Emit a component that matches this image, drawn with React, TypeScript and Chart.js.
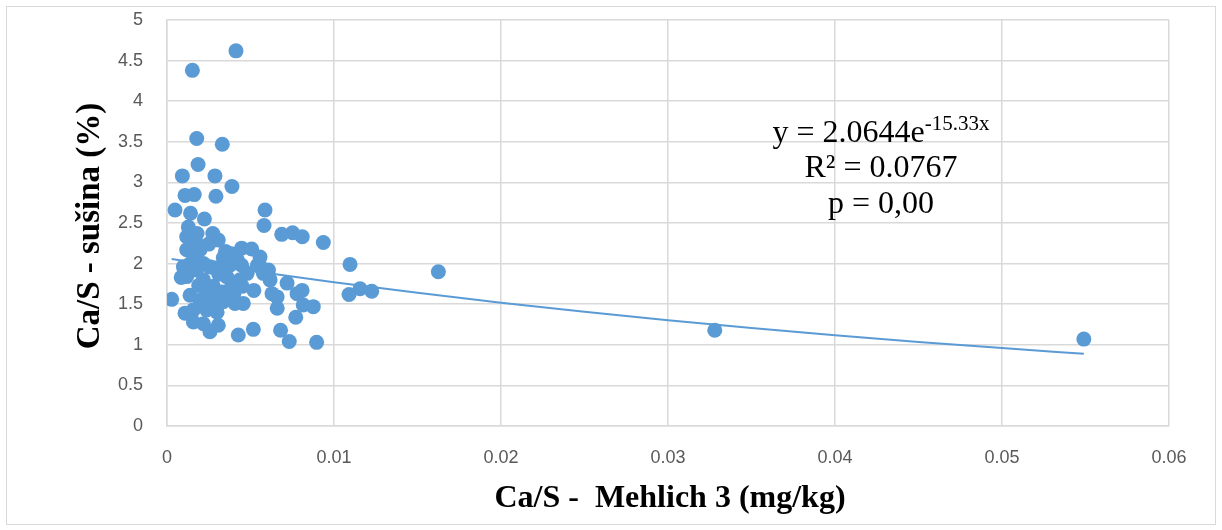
import React, { useEffect, useRef } from 'react';
import { Chart, registerables } from 'chart.js';

Chart.register(...registerables);

// Ca/S - Mehlich 3 (mg/kg)
const xValues: number[] = [
  0.00413, 0.00152, 0.00178, 0.00331, 0.00186, 0.00092, 0.00287, 0.00389, 0.00108, 0.00163,
  0.00293, 0.00048, 0.00141, 0.00224, 0.00587, 0.00581, 0.00687, 0.00752, 0.0081, 0.00936,
  0.01096, 0.01625, 0.0328, 0.0549, 0.0109, 0.01156, 0.01226, 0.00128, 0.00118, 0.0018,
  0.00274, 0.00307, 0.00178, 0.00118, 0.00198, 0.00447, 0.00507, 0.00387, 0.00337, 0.00557,
  0.00158, 0.00218, 0.00148, 0.00257, 0.00377, 0.00447, 0.0056, 0.00608, 0.00541, 0.0052,
  0.00719, 0.00629, 0.00659, 0.00809, 0.00779, 0.00816, 0.00876, 0.0066, 0.00771, 0.00517,
  0.0068, 0.00732, 0.00896, 0.00577, 0.00617, 0.00028, 0.00118, 0.00178, 0.00218, 0.00278,
  0.00357, 0.00437, 0.00387, 0.00138, 0.00198, 0.00268, 0.00337, 0.00407, 0.00457, 0.00158,
  0.00238, 0.00158, 0.00218, 0.00307, 0.00257, 0.00427, 0.00098, 0.00357, 0.00108, 0.00085,
  0.0025, 0.0033, 0.003, 0.004, 0.0045, 0.0028, 0.0023, 0.0019, 0.0014, 0.0035,
  0.0042, 0.0048, 0.0039, 0.0027, 0.0031,
];

// Ca/S - sušina (%)
const yValues: number[] = [
  4.62, 4.38, 3.54, 3.47, 3.22, 3.08, 3.08, 2.95, 2.84, 2.85,
  2.83, 2.66, 2.62, 2.55, 2.66, 2.47, 2.36, 2.38, 2.33, 2.26,
  1.99, 1.9, 1.18, 1.07, 1.62, 1.69, 1.66, 2.45, 2.33, 2.37,
  2.37, 2.29, 2.25, 2.17, 2.17, 2.19, 2.18, 2.12, 2.07, 2.08,
  2.04, 2.0, 1.94, 1.96, 1.98, 1.98, 1.96, 1.92, 1.98, 1.67,
  1.76, 1.63, 1.59, 1.67, 1.63, 1.49, 1.47, 1.45, 1.34, 1.19,
  1.18, 1.04, 1.03, 1.88, 1.8, 1.56, 1.84, 1.92, 1.8, 1.72,
  1.84, 1.8, 1.72, 1.61, 1.55, 1.59, 1.53, 1.51, 1.51, 1.43,
  1.43, 1.28, 1.26, 1.24, 1.16, 1.12, 1.96, 1.96, 1.39, 1.83,
  2.24, 1.65, 1.4, 1.62, 1.72, 1.95, 1.7, 1.73, 2.0, 2.15,
  2.05, 1.88, 1.6, 1.5, 1.87,
];

// Exponential trendline shown on the chart: y = 2.0644e^(-15.33x)
const TREND_A = 2.0644;
const TREND_B = -15.33;
const trendSampleX: number[] = [0.00028, 0.005, 0.01, 0.015, 0.02, 0.025, 0.03, 0.035, 0.04, 0.045, 0.05, 0.0549];

const equationMain = 'y = 2.0644e';
const equationExp = '-15.33x';
const r2Label = 'R² = 0.0767';
const pLabel = 'p = 0,00';
const xTitle = 'Ca/S -  Mehlich 3 (mg/kg)';
const yTitle = 'Ca/S - sušina (%)';

const BLUE = '#5B9BD5';
const GRID = '#d9d9d9';

const fmt = (v: number) => String(Number(Number(v).toFixed(4)));

export default function App() {
  const ref = useRef<HTMLCanvasElement | null>(null);

  useEffect(() => {
    if (!ref.current) return;
    const points = xValues.map((x, i) => ({ x, y: yValues[i] }));
    const trend = trendSampleX.map((x) => ({ x, y: TREND_A * Math.exp(TREND_B * x) }));

    const textPlugin = {
      id: 'textPlugin',
      beforeDraw(chart: any) {
        const ctx = chart.ctx;
        ctx.save();
        ctx.fillStyle = '#ffffff';
        ctx.fillRect(0, 0, chart.width, chart.height);
        ctx.strokeStyle = GRID;
        ctx.lineWidth = 1;
        ctx.strokeRect(6.5, 6.5, 1209, 518);
        ctx.restore();
      },
      afterDraw(chart: any) {
        const ctx = chart.ctx;
        const area = chart.chartArea;
        ctx.save();
        ctx.fillStyle = '#000000';
        // x axis title
        ctx.font = 'bold 32px "Liberation Serif"';
        ctx.textAlign = 'center';
        ctx.textBaseline = 'alphabetic';
        ctx.fillText(xTitle, (area.left + area.right) / 2 + 2, 507);
        // y axis title
        ctx.save();
        ctx.font = 'bold 33px "Liberation Serif"';
        ctx.translate(90, (area.top + area.bottom) / 2 + 3);
        ctx.rotate(-Math.PI / 2);
        ctx.textBaseline = 'middle';
        ctx.fillText(yTitle, 0, 0);
        ctx.restore();
        // equation
        const cx = 881;
        ctx.font = '32px "Liberation Serif"';
        const w1 = ctx.measureText(equationMain).width;
        ctx.font = '21px "Liberation Serif"';
        const w2 = ctx.measureText(equationExp).width;
        const start = cx - (w1 + w2) / 2;
        ctx.textAlign = 'left';
        ctx.font = '32px "Liberation Serif"';
        ctx.fillText(equationMain, start, 142);
        ctx.font = '21px "Liberation Serif"';
        ctx.fillText(equationExp, start + w1, 130);
        ctx.font = '32px "Liberation Serif"';
        ctx.textAlign = 'center';
        ctx.fillText(r2Label, cx, 177);
        ctx.fillText(pLabel, cx, 213);
        ctx.restore();
      },
    };

    const chart = new Chart(ref.current, {
      type: 'scatter',
      data: {
        datasets: [
          {
            label: 'Trend',
            data: trend,
            showLine: true,
            borderColor: BLUE,
            borderWidth: 2,
            pointRadius: 0,
            fill: false,
            cubicInterpolationMode: 'monotone',
          },
          {
            label: 'Ca/S',
            data: points,
            backgroundColor: BLUE,
            borderColor: BLUE,
            borderWidth: 0,
            pointRadius: 7.5,
            showLine: false,
          },
        ],
      },
      options: {
        responsive: false,
        animation: false,
        devicePixelRatio: 1,
        layout: { padding: { left: 0, top: 20, right: 53, bottom: 0 } },
        plugins: {
          legend: { display: false },
          tooltip: { enabled: false },
          title: { display: false },
        },
        scales: {
          x: {
            type: 'linear',
            min: 0,
            max: 0.06,
            afterFit: (scale: any) => {
              scale.height = 104;
              scale.paddingLeft = 0;
              scale.paddingRight = 0;
            },
            ticks: {
              stepSize: 0.01,
              padding: 21,
              color: '#595959',
              font: { family: '"Liberation Sans"', size: 18 },
              callback: (v: any) => fmt(v),
              maxRotation: 0,
            },
            grid: { color: GRID, lineWidth: 1.5, drawTicks: false },
            border: { display: true, color: GRID, width: 1.5 },
          },
          y: {
            type: 'linear',
            min: 0,
            max: 5,
            afterFit: (scale: any) => {
              scale.width = 167;
              scale.paddingTop = 0;
              scale.paddingBottom = 0;
            },
            ticks: {
              stepSize: 0.5,
              padding: 24,
              color: '#595959',
              font: { family: '"Liberation Sans"', size: 18 },
              callback: (v: any) => fmt(v),
            },
            grid: { color: GRID, lineWidth: 1.5, drawTicks: false },
            border: { display: true, color: GRID, width: 1.5 },
          },
        },
      },
      plugins: [textPlugin],
    } as any);

    return () => chart.destroy();
  }, []);

  return (
    <div style={{ position: 'absolute', left: 0, top: 0, width: 1222, height: 530, background: '#fff' }}>
      <canvas ref={ref} width={1222} height={530} style={{ width: 1222, height: 530, display: 'block' }} />
    </div>
  );
}
